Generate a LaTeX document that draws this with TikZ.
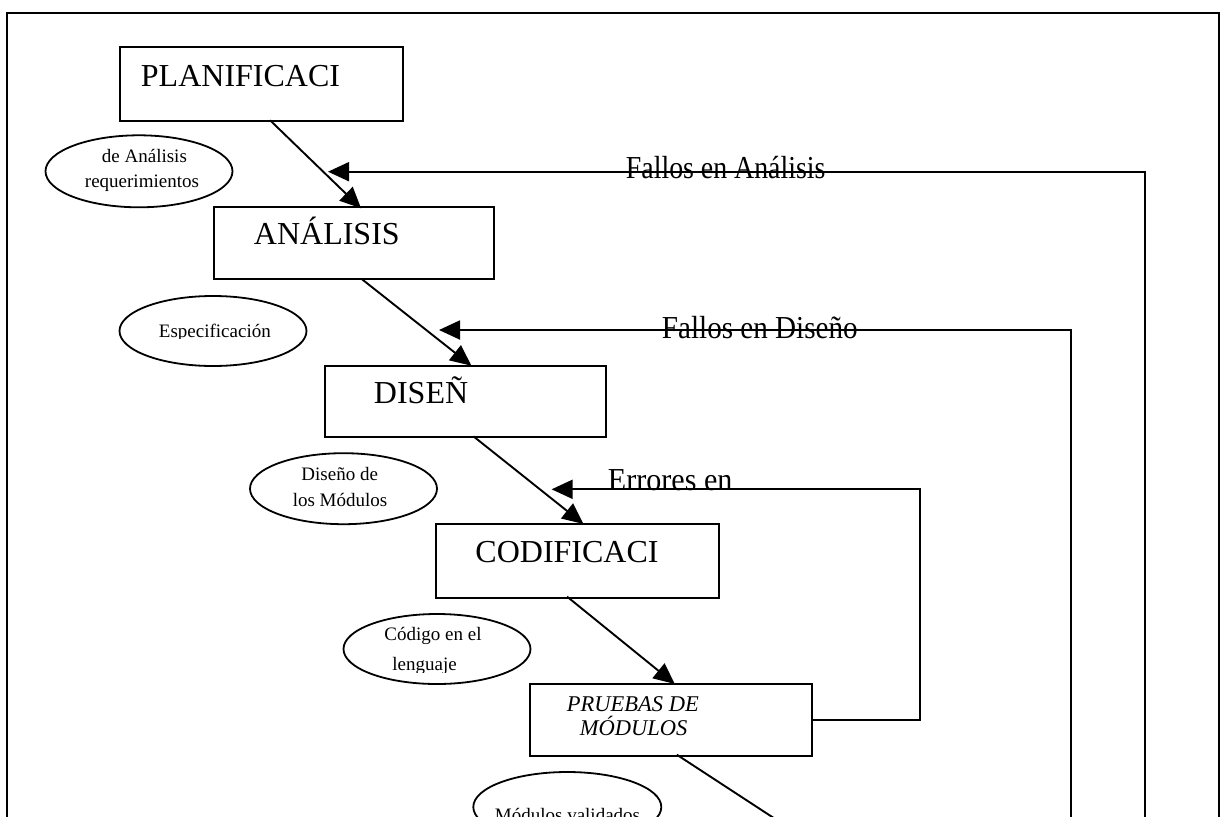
\documentclass[tikz,border=0pt]{standalone}
\usepackage{fontspec}
\setmainfont{Liberation Serif}
\usetikzlibrary{shapes.geometric,arrows.meta,calc}
\begin{document}
\begin{tikzpicture}[x=1pt,y=-1pt,
  line width=1.9pt,
  box/.style={draw, rectangle, inner sep=0pt, line width=2pt},
  oval/.style={draw, ellipse, inner sep=0pt, minimum width=187pt, minimum height=71pt, line width=1.8pt},
  big/.style={inner sep=0pt, anchor=base west, font=\fontsize{32}{36}\selectfont},
  small/.style={inner sep=0pt, anchor=base west, font=\fontsize{19}{22}\selectfont},
  ital/.style={inner sep=0pt, anchor=base west, font=\fontsize{22.5}{26}\selectfont\itshape},
  arr/.style={-{Triangle[length=21pt,width=19pt]}, line width=1.9pt},
]
\useasboundingbox (0,0) rectangle (1228,816);
\clip (0,0) rectangle (1228,816);

% outer frame
\draw[line width=2.2pt] (7.3,13.3) rectangle (1219.3,860);

% process boxes
\node[box, minimum width=283pt, minimum height=74pt] (plan) at (261,84.3) {};
\node[box, minimum width=280.3pt, minimum height=72pt] (anal) at (354.2,243.3) {};
\node[box, minimum width=280.8pt, minimum height=71.6pt] (dise) at (465.8,401.5) {};
\node[box, minimum width=282.4pt, minimum height=73.7pt] (codi) at (577.3,560.8) {};
\node[box, minimum width=282.5pt, minimum height=71.7pt] (prue) at (671,719.8) {};

\node[big] (tplan) at (140,86) {PLANIFICACI};
\node[big] (tanal) at (253,244.3) {ANÁLISIS};
\node[big] (tdise) at (373,403) {DISEÑ};
\node[big] (tcodi) at (474.5,562.3) {CODIFICACI};
\node[ital] (tprue1) at (566,711.7) {PRUEBAS DE};
\node[ital] (tprue2) at (579,735) {MÓDULOS};

% ellipses
\node[oval, minimum height=72pt] (e1) at (139,171.3) {};
\node[oval, minimum height=70pt] (e2) at (213,331) {};
\node[oval] (e3) at (343.5,488.7) {};
\node[oval, minimum height=70pt] (e4) at (437,649) {};
\node[oval, minimum width=188pt, minimum height=70pt] (e5) at (567.3,807) {};

\node[small] (te1a) at (101,162.3) {de Análisis};
\node[small] (te1b) at (84,187.3) {requerimientos};
\begin{scope}
\clip (120,300) rectangle (300,338.8);
\node[small] (te2) at (158,337.3) {Especificación};
\end{scope}
\node[small] (te3a) at (300.5,480) {Diseño de};
\node[small] (te3b) at (291.8,506) {los Módulos};
\node[small] (te4a) at (383.5,640) {Código en el};
\begin{scope}
\clip (350,650) rectangle (520,672.7);
\node[small] (te4b) at (391.5,670.7) {lenguaje};
\end{scope}
\node[small] (te5) at (494,821) {Módulos validados};

% forward arrows
\draw[arr] ($(plan.south west)+(151.6,-2)$) -- ($(anal.north west)+(148,2)$);
\draw[arr] ($(anal.south west)+(149,-1)$) -- ($(dise.north west)+(147,1)$);
\draw[arr] ($(dise.south west)+(149,-2)$) -- ($(codi.north west)+(148.3,1)$);
\draw[arr] ($(codi.south west)+(132,-2)$) -- ($(prue.north west)+(146,1)$);
\coordinate (nextTop) at (835,858);
\draw[arr] ($(prue.south west)+(148,-2)$) -- (nextTop);

% feedback loops
\coordinate (faB) at (1144.7,860);
\coordinate (faT) at (328,171.7);
\draw[arr] (faB) |- (faT);
\coordinate (fdB) at (1070.6,860);
\coordinate (fdT) at (439,330);
\draw[arr] (fdB) |- (fdT);
\coordinate (eeC) at (920.4,489.3);
\coordinate (eeT) at (551.6,489.3);
\draw[arr] (prue.east) -| (eeC) -- (eeT);

\node[big] (lfa) at (625,178.3) {\scalebox{0.87}[1]{Fallos en Análisis}};
\node[big] (lfd) at (661,338.3) {\scalebox{0.91}[1]{Fallos en Diseño}};
\node[big] (lee) at (607,490.7) {\scalebox{0.94}[1]{Errores en}};
\end{tikzpicture}
\end{document}
